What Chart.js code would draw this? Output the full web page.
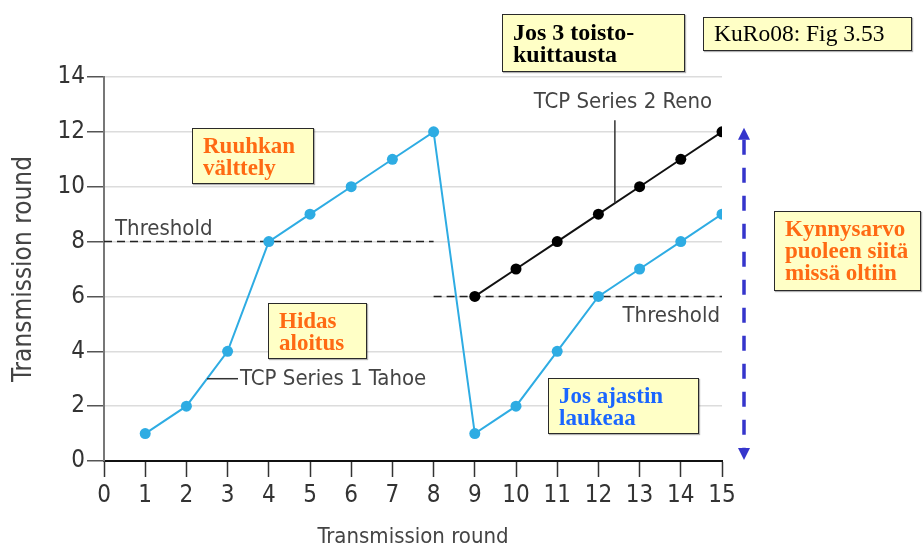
<!DOCTYPE html>
<html lang="fi">
<head>
<meta charset="utf-8">
<title>TCP ruuhkaikkuna</title>
<script src="https://cdn.jsdelivr.net/npm/chart.js@4.4.1/dist/chart.umd.min.js"></script>
<style>
  body { margin: 0; background: #fff; }
  #wrap { position: relative; width: 924px; height: 550px; overflow: hidden; }
  .note {
    position: absolute; box-sizing: border-box;
    background: #ffffc6; border: 1.5px solid #2a2a2a;
    box-shadow: 1px 1px 1px rgba(0, 0, 0, .3);
    font: bold 23px/22px 'Liberation Serif', 'Times New Roman', serif;
    padding: 6px 10px; white-space: nowrap; color: #000;
  }
  .orange { color: #ff6a13; }
  .blue { color: #1a66ff; }
</style>
</head>
<body>
<div id="wrap">
  <canvas id="cwnd" width="924" height="550"></canvas>
  <div class="note" style="left:502px;top:14px;width:183px;height:58px;font-size:24px;">Jos 3 toisto-<br>kuittausta</div>
  <div class="note" style="left:703px;top:17px;width:209px;height:34px;font-weight:normal;font-size:23.5px;padding:4px 10px;">KuRo08: Fig 3.53</div>
  <div class="note orange" style="left:192px;top:128px;width:122px;height:56px;">Ruuhkan<br>välttely</div>
  <div class="note orange" style="left:268px;top:303px;width:99px;height:56px;">Hidas<br>aloitus</div>
  <div class="note blue" style="left:548px;top:378px;width:151px;height:56px;">Jos ajastin<br>laukeaa</div>
  <div class="note orange" style="left:774px;top:211px;width:147px;height:80px;">Kynnysarvo<br>puoleen siitä<br>missä oltiin</div>
</div>
<script>
// ---- Data ----
const rounds = [1, 2, 3, 4, 5, 6, 7, 8, 9, 10, 11, 12, 13, 14, 15];
const tahoeWindow = [1, 2, 4, 8, 9, 10, 11, 12, 1, 2, 4, 6, 7, 8, 9];
const renoRounds = [9, 10, 11, 12, 13, 14, 15];
const renoWindow = [6, 7, 8, 9, 10, 11, 12];
const thresholdLevels = [8, 6];
const thresholdSpans = [[0, 8], [8, 15]];
const xRange = [0, 15];
const yRange = [0, 14];
const yStep = 2;

const sansCond = "'DejaVu Sans Condensed', 'Liberation Sans Narrow', 'DejaVu Sans', sans-serif";
const tahoeBlue = '#2eace3';

const toPoints = (xs, ys) => xs.map((x, i) => ({ x, y: ys[i] }));

// ---- Annotations drawn on top of the series ----
const notesPlugin = {
  id: 'notes',
  afterDatasetsDraw(chart) {
    const { ctx, chartArea, scales: { x, y } } = chart;
    ctx.save();
    ctx.font = '22px ' + sansCond;
    ctx.fillStyle = '#444';
    ctx.strokeStyle = '#333';
    ctx.lineWidth = 1.5;

    // threshold captions
    ctx.textBaseline = 'alphabetic';
    ctx.textAlign = 'left';
    ctx.fillText('Threshold', x.getPixelForValue(thresholdSpans[0][0]) + 11, y.getPixelForValue(thresholdLevels[0]) - 7);
    ctx.textAlign = 'right';
    ctx.fillText('Threshold', x.getPixelForValue(thresholdSpans[1][1]) - 2, y.getPixelForValue(thresholdLevels[1]) + 26);

    // Tahoe leader: halfway between rounds 2 and 3
    const tx = x.getPixelForValue(2.5);
    const ty = y.getPixelForValue((tahoeWindow[1] + tahoeWindow[2]) / 2);
    ctx.beginPath();
    ctx.moveTo(tx, ty);
    ctx.lineTo(tx + 31, ty);
    ctx.stroke();
    ctx.textAlign = 'left';
    ctx.textBaseline = 'middle';
    ctx.fillText('TCP Series 1 Tahoe', tx + 33, ty + 1);

    // Reno leader: a bit past round 12
    const rf = 0.4;
    const rx = x.getPixelForValue(renoRounds[3] + rf);
    const ry = y.getPixelForValue(renoWindow[3] + rf * (renoWindow[4] - renoWindow[3]));
    ctx.beginPath();
    ctx.moveTo(rx, ry);
    ctx.lineTo(rx, ry - 83);
    ctx.stroke();
    ctx.textAlign = 'center';
    ctx.fillText('TCP Series 2 Reno', rx + 8, ry - 101);

    // blue double arrow from the old peak down to zero
    const ax = chartArea.right + 22;
    const top = y.getPixelForValue(Math.max(...renoWindow)) - 4;
    const bottom = y.getPixelForValue(0) - 1;
    const head = 12;
    ctx.strokeStyle = '#3535cc';
    ctx.fillStyle = '#3535cc';
    ctx.lineWidth = 3.5;
    ctx.setLineDash([15, 13]);
    ctx.beginPath();
    ctx.moveTo(ax, top + head);
    ctx.lineTo(ax, bottom - head);
    ctx.stroke();
    ctx.setLineDash([]);
    ctx.beginPath();
    ctx.moveTo(ax, top);
    ctx.lineTo(ax - 6, top + head);
    ctx.lineTo(ax + 6, top + head);
    ctx.closePath();
    ctx.fill();
    ctx.beginPath();
    ctx.moveTo(ax, bottom);
    ctx.lineTo(ax - 6, bottom - head);
    ctx.lineTo(ax + 6, bottom - head);
    ctx.closePath();
    ctx.fill();

    ctx.restore();
  }
};

const thresholdSets = thresholdLevels.map((level, i) => ({
  label: 'Threshold ' + (i + 1),
  data: thresholdSpans[i].map(x => ({ x, y: level })),
  borderColor: '#222',
  borderWidth: 1.5,
  borderDash: [8, 5],
  pointRadius: 0,
  order: 3
}));

new Chart(document.getElementById('cwnd'), {
  type: 'line',
  data: {
    datasets: [
      ...thresholdSets,
      {
        label: 'TCP Series 1 Tahoe',
        data: toPoints(rounds, tahoeWindow),
        borderColor: tahoeBlue,
        backgroundColor: tahoeBlue,
        borderWidth: 2,
        pointRadius: 5.5,
        pointBorderWidth: 0,
        order: 2
      },
      {
        label: 'TCP Series 2 Reno',
        data: toPoints(renoRounds, renoWindow),
        borderColor: '#111',
        backgroundColor: '#000',
        borderWidth: 2,
        pointRadius: 5.5,
        pointBorderWidth: 0,
        order: 1
      }
    ]
  },
  options: {
    responsive: false,
    animation: false,
    layout: { padding: { top: 77, right: 202, left: 0, bottom: 0 } },
    plugins: {
      legend: { display: false },
      tooltip: { enabled: false }
    },
    scales: {
      x: {
        type: 'linear',
        min: xRange[0],
        max: xRange[1],
        afterFit: (scale) => { scale.height = 89; },
        ticks: {
          stepSize: 1,
          color: '#333',
          padding: 4,
          font: { family: sansCond, size: 24 }
        },
        grid: {
          drawOnChartArea: false,
          tickLength: 16,
          tickColor: '#333',
          tickWidth: 1.5
        },
        border: { color: '#111', width: 2 },
        title: {
          display: true,
          text: 'Transmission round',
          color: '#444',
          font: { family: sansCond, size: 22 },
          padding: { top: 0, bottom: 0 }
        }
      },
      y: {
        min: yRange[0],
        max: yRange[1],
        afterFit: (scale) => { scale.width = 104; },
        ticks: {
          stepSize: yStep,
          color: '#333',
          padding: 2,
          font: { family: sansCond, size: 24 }
        },
        grid: {
          color: (c) => c.tick && c.tick.value === 0 ? 'rgba(0,0,0,0)' : '#dcdcdc',
          lineWidth: 1.5,
          tickLength: 17,
          tickColor: '#555',
          tickWidth: 1.5
        },
        border: { color: '#777', width: 2 },
        title: {
          display: true,
          text: 'Transmission round',
          color: '#444',
          font: { family: sansCond, size: 26 },
          padding: { top: 9, bottom: 0 }
        }
      }
    }
  },
  plugins: [notesPlugin]
});
</script>
</body>
</html>
